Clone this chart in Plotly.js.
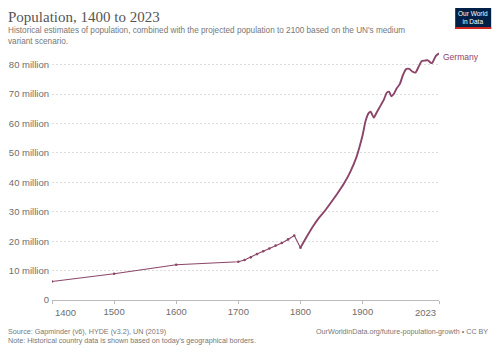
<!DOCTYPE html>
<html><head><meta charset="utf-8">
<script src="https://cdn.plot.ly/plotly-3.0.1.min.js"></script>
<style>html,body{margin:0;padding:0;background:#fff;}#chart{width:500px;height:353px;}</style>
</head><body><div id="chart"></div>
<script>
const years = [1400,1500,1600,1700,1710,1720,1730,1740,1750,1760,1770,1780,1790,1800,
  1810,1820,1830,1840,1850,1860,1870,1880,1890,1895,1900,1905,1910,1913,1918,1922,1926,1930,1935,1939,1943,1946,1950,1955,1960,1965,1970,1975,1980,1985,1990,1995,2000,2005,2010,2012,2015,2018,2020,2023];
const population = [6.3,8.9,12.0,13.0,13.6,14.5,15.6,16.6,17.5,18.5,19.4,20.6,21.9,17.8,
  21.5,25.0,28.0,30.5,33.4,36.4,39.6,43.5,48.5,52.0,56.0,61.0,63.6,64.0,62.0,63.5,65.0,66.5,68.5,70.5,70.8,69.3,70.0,72.0,73.5,76.5,78.5,78.6,77.7,77.3,79.2,81.2,81.4,81.5,80.6,80.6,81.8,83.0,83.4,83.9];
const countryName = "Germany";
const yTickVals = [0,10,20,30,40,50,60,70,80];
const yTickText = ["0","10 million","20 million","30 million","40 million","50 million","60 million","70 million","80 million"];
const xTickVals = [1400,1500,1600,1700,1800,1900,2023];
const xTickText = ["1400","1500","1600","1700","1800","1900","2023"];

const col = "#8C4569";
const histX = [], histY = [], modX = [], modY = [];
years.forEach((y,i)=>{ if (y<=1800){histX.push(y);histY.push(population[i]*1e6);} if (y>=1800){modX.push(y);modY.push(population[i]*1e6);} });

const traces = [
  {x: histX, y: histY, type:'scatter', mode:'lines+markers', line:{color:col,width:1.1}, marker:{color:col,size:2.6}, hoverinfo:'skip'},
  {x: modX, y: modY, type:'scatter', mode:'lines', line:{color:col,width:1.9,shape:'spline',smoothing:0.6}, hoverinfo:'skip'}
];
const gray = "#6e6e6e";
const W = 387.3, H = 249.7, L = 51.5, T = 50.3;
const shownTickText = xTickText.map((t,i)=> (i===0 || i===xTickText.length-1) ? "" : t);
const layout = {
  width:500, height:353,
  margin:{l:L, r:61.2, t:T, b:53},
  paper_bgcolor:'#fff', plot_bgcolor:'#fff',
  showlegend:false,
  font:{family:'Liberation Sans, Arial, sans-serif', color:gray},
  xaxis:{range:[1400,2023], tickvals:xTickVals, ticktext:shownTickText, showgrid:false, zeroline:false,
    showline:true, linecolor:'#bbb', linewidth:1, ticks:'outside', ticklen:3, tickcolor:'#bbb',
    tickfont:{size:9.5,color:gray}, fixedrange:true},
  yaxis:{range:[0,85e6], tickvals:yTickVals.map(v=>v*1e6), ticktext:yTickText, showgrid:true,
    gridcolor:'#ddd', griddash:'2px,2px', zeroline:false, showline:false, ticks:'', ticklabelstandoff:2,
    tickfont:{size:9.5,color:gray}, fixedrange:true},
  annotations:[
    {xref:'paper', yref:'paper', x:(5-L)/W, y:1, xanchor:'left', yanchor:'bottom', yshift:23, showarrow:false,
     text:'Population, 1400 to 2023', font:{family:'Liberation Serif, serif', size:15, color:'#555'}},
    {xref:'paper', yref:'paper', x:(5-L)/W, y:1, xanchor:'left', yanchor:'bottom', yshift:1.5, showarrow:false, align:'left',
     text:"Historical estimates of population, combined with the projected population to 2100 based on the UN's medium<br>variant scenario.",
     font:{size:8.2, color:'#777'}},
    {x: years[years.length-1], y: population[population.length-1]*1e6, xanchor:'left', yanchor:'middle', xshift:2, yshift:-4, showarrow:false,
     text: countryName, font:{size:8.5, color:col}},
    {x: xTickVals[0], xref:'x', yref:'paper', y:0, xanchor:'left', yanchor:'top', yshift:-5, xshift:1, showarrow:false,
     text: xTickText[0], font:{size:9.5, color:gray}},
    {x: xTickVals[xTickVals.length-1], xref:'x', yref:'paper', y:0, xanchor:'right', yanchor:'top', yshift:-5, xshift:-1, showarrow:false,
     text: xTickText[xTickText.length-1], font:{size:9.5, color:gray}},
    {xref:'paper', yref:'paper', x:(5-L)/W, y:0, xanchor:'left', yanchor:'top', yshift:-25, showarrow:false, align:'left',
     text:"Source: Gapminder (v6), HYDE (v3.2), UN (2019)<br>Note: Historical country data is shown based on today's geographical borders.",
     font:{size:7.2, color:'#777'}},
    {xref:'paper', yref:'paper', x:(490-L)/W, y:0, xanchor:'right', yanchor:'top', yshift:-25, showarrow:false,
     text:"OurWorldinData.org/future-population-growth • CC BY", font:{size:7.2, color:'#777'}},
    {xref:'paper', yref:'paper', x:(473-L)/W, y:1, xanchor:'center', yanchor:'middle', yshift:32.5, showarrow:false,
     text:'Our World<br>in Data', font:{size:6.5, color:'#fff'}}
  ],
  shapes:[
    {type:'rect', xref:'paper', yref:'paper', x0:(455-L)/W, x1:(491-L)/W, y0:1+(T-29.3)/H, y1:1+(T-8.3)/H, fillcolor:'#002147', line:{width:0}},
    {type:'rect', xref:'paper', yref:'paper', x0:(455-L)/W, x1:(491-L)/W, y0:1+(T-29.3)/H, y1:1+(T-27.3)/H, fillcolor:'#ce261e', line:{width:0}}
  ]
};
Plotly.newPlot('chart', traces, layout, {displayModeBar:false, staticPlot:true});
</script></body></html>
